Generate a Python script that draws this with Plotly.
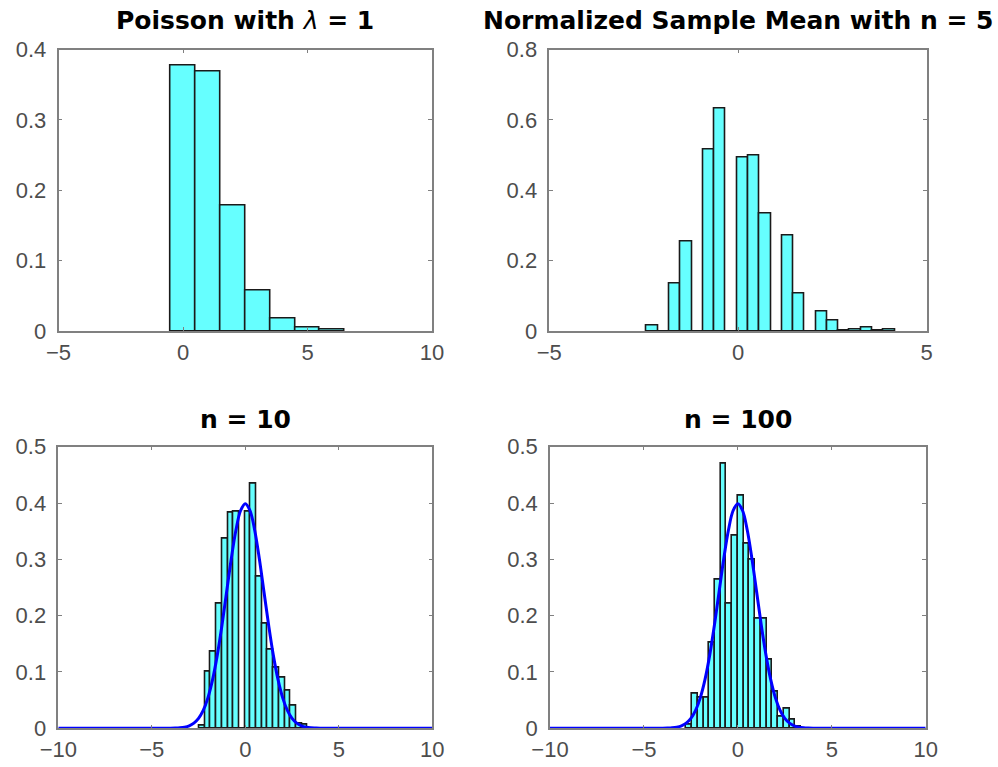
import plotly.graph_objects as go

W, H = 998, 767

# ---- data ----
poisson_k = [0, 1, 2, 3, 4, 5, 6]
poisson_density = [0.377, 0.369, 0.178, 0.058, 0.018, 0.005, 0.0015]

# normalized sample mean, n = 5 (bin start, bin width, densities)
n5_start, n5_width = -2.42, 0.299
n5_density = [0.015, 0.0, 0.136, 0.254, 0.0, 0.515, 0.631, 0.0, 0.492, 0.499, 0.335,
              0.0, 0.271, 0.107, 0.0, 0.055, 0.031, 0.001, 0.004, 0.010, 0.001, 0.004]

# n = 10
n10_start, n10_width = -2.46, 0.305
n10_density = [0.005, 0.100, 0.136, 0.222, 0.336, 0.382, 0.385, 0.0, 0.385, 0.434,
               0.270, 0.185, 0.140, 0.108, 0.090, 0.066, 0.040, 0.008, 0.006]

# n = 100
n100_start, n100_width = -2.74, 0.305
n100_density = [0.006, 0.061, 0.054, 0.054, 0.152, 0.264, 0.470, 0.222, 0.342, 0.413,
                0.327, 0.299, 0.194, 0.194, 0.122, 0.065, 0.021, 0.034, 0.016, 0.003]

# standard normal curve
curve_x = [-10, -5, -4, -3.75, -3.5, -3.25, -3, -2.75, -2.5, -2.25, -2, -1.75, -1.5, -1.25,
           -1, -0.75, -0.5, -0.25, 0, 0.25, 0.5, 0.75, 1, 1.25, 1.5, 1.75, 2, 2.25, 2.5,
           2.75, 3, 3.25, 3.5, 3.75, 4, 5, 10]
curve_y = [0, 0, 0.0001, 0.0004, 0.0009, 0.0020, 0.0044, 0.0091, 0.0175, 0.0317, 0.0540,
           0.0863, 0.1295, 0.1826, 0.2420, 0.3011, 0.3521, 0.3867, 0.3989, 0.3867, 0.3521,
           0.3011, 0.2420, 0.1826, 0.1295, 0.0863, 0.0540, 0.0317, 0.0175, 0.0091, 0.0044,
           0.0020, 0.0009, 0.0004, 0.0001, 0, 0]

titles = ["<b>Poisson with </b><i>λ</i><b> = 1</b>", "<b>Normalized Sample Mean with n = 5</b>",
          "<b>n = 10</b>", "<b>n = 100</b>"]

BAR_FILL = "#66ffff"
BAR_EDGE = "#1a1a1a"
AX_COL = "#808080"
TICK_FONT = dict(family="Liberation Sans, Arial, sans-serif", size=22, color="#4d4d4d")
TITLE_FONT = dict(family="DejaVu Sans, sans-serif", size=25, color="#000000")


def centers(start, width, n):
    return [start + width * (i + 0.5) for i in range(n)]


# pixel boxes of the four axes: (left, right, top, bottom)
boxes = [
    (58.5, 432.0, 49.5, 331.0),
    (549.3, 926.7, 49.5, 331.0),
    (58.3, 432.3, 446.7, 728.3),
    (550.0, 925.7, 446.7, 728.3),
]

fig = go.Figure()

hist_sets = [
    (poisson_k, poisson_density, 1.0),
    (centers(n5_start, n5_width, len(n5_density)), n5_density, n5_width),
    (centers(n10_start, n10_width, len(n10_density)), n10_density, n10_width),
    (centers(n100_start, n100_width, len(n100_density)), n100_density, n100_width),
]

for i, (xs, ys, wd) in enumerate(hist_sets):
    sfx = "" if i == 0 else str(i + 1)
    fig.add_trace(go.Bar(
        x=xs, y=ys, width=wd,
        marker=dict(color=BAR_FILL, line=dict(color=BAR_EDGE, width=1.6)),
        xaxis="x" + sfx, yaxis="y" + sfx, showlegend=False, hoverinfo="x+y",
    ))

for i in (2, 3):
    sfx = str(i + 1)
    fig.add_trace(go.Scatter(
        x=curve_x, y=curve_y, mode="lines", line=dict(color="#0000ff", width=3, shape="spline"),
        xaxis="x" + sfx, yaxis="y" + sfx, showlegend=False,
    ))

x_ranges = [[-5, 10], [-5, 5], [-10, 10], [-10, 10]]
y_ranges = [[0, 0.4], [0, 0.8], [0, 0.5], [0, 0.5]]
x_ticks = [[-5, 0, 5, 10], [-5, 0, 5], [-10, -5, 0, 5, 10], [-10, -5, 0, 5, 10]]
y_dticks = [0.1, 0.2, 0.1, 0.1]

layout = dict(
    width=W, height=H, autosize=False,
    margin=dict(l=0, r=0, t=0, b=0),
    paper_bgcolor="white", plot_bgcolor="white",
    bargap=0, showlegend=False,
    annotations=[],
)

for i, (l, r, t, b) in enumerate(boxes):
    sfx = "" if i == 0 else str(i + 1)
    common = dict(
        showline=True, linecolor=AX_COL, linewidth=1.5, mirror="ticks",
        ticks="inside", ticklen=4, tickcolor=AX_COL, tickwidth=1,
        showgrid=False, zeroline=False, tickfont=TICK_FONT, fixedrange=True,
        automargin=False,
    )
    layout["xaxis" + sfx] = dict(
        common, domain=[l / W, r / W], range=x_ranges[i],
        tickmode="array", tickvals=x_ticks[i],
        anchor="y" + sfx, ticklabelstandoff=1,
    )
    layout["yaxis" + sfx] = dict(
        common, domain=[1 - b / H, 1 - t / H], range=y_ranges[i],
        tick0=0, dtick=y_dticks[i],
        anchor="x" + sfx, ticklabelstandoff=6,
    )
    title_y = 21 if i < 2 else 419
    layout["annotations"].append(dict(
        text=titles[i], x=(l + r) / 2 / W, y=1 - title_y / H,
        xref="paper", yref="paper", xanchor="center", yanchor="middle",
        showarrow=False, font=TITLE_FONT,
    ))

fig.update_layout(**layout)
# the page's default body margin would push the figure 8px down and right
fig.write_html(
    "out.html",
    config={"displayModeBar": False},
    post_script="document.body.style.margin='0';",
)
